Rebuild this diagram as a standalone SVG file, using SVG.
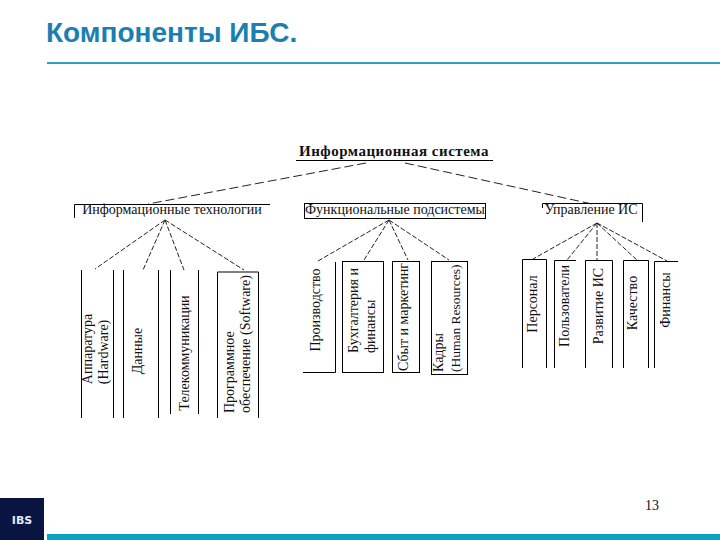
<svg xmlns="http://www.w3.org/2000/svg" width="720" height="540" viewBox="0 0 720 540">
<style>
.t{font-family:"Liberation Serif","Noto Sans CJK SC",serif;font-size:14px;fill:#111}
.h{text-anchor:middle}
.n{font-size:13.500px}
.s{fill:none;stroke:#000;stroke-width:1}
.d{fill:none;stroke:#222;stroke-width:1}
.d1{stroke-dasharray:9 4}
.d2{stroke-dasharray:5 2}
</style>
<rect width="720" height="540" fill="#fff"/>
<g id="header">
<text x="46" y="42" font-family="'Liberation Sans',sans-serif" font-size="28" font-weight="bold" fill="#1a80b2">Компоненты ИБС.</text>
<rect x="47" y="62" width="673" height="2" fill="#2b9fc6"/>
</g>
<g id="connectors">
<path class="d d1" d="M366 163L148 204M405 163L592 204"/>
<path class="d d2" d="M165 220L95 269M165 220L143 270M165 220L184 270M165 220L244 270"/>
<path class="d d2" d="M389 220L318 261M389 220L364 260M389 220L408 260M389 220L449 260"/>
<path class="d d2" d="M597 223L533 259M597 223L567 260M597 223V260M597 223L638 261M597 223L667 261"/>
</g>
<g id="root">
<path class="s" d="M296 160.500H493"/>
<text class="t" x="394" y="156" text-anchor="middle" font-weight="bold" style="font-size:15px;letter-spacing:.5px">Информационная система</text>
</g>
<g id="info-tech">
<path class="s" d="M74.500 218V204.500H270"/>
<text class="t h" x="172" y="214">Информационные технологии</text>
</g>
<g id="func-sub">
<rect class="s" x="304.500" y="203.500" width="181" height="15"/>
<text class="t h" x="395" y="214">Функциональные подсистемы</text>
</g>
<g id="mgmt">
<path class="s" d="M542.500 208V203.500H642.500V222"/>
<text class="t h" x="591" y="214">Управление ИС</text>
</g>
<g id="n-hardware">
<path class="s" d="M81.500 270V418M113.500 270V418"/>
<text class="t" text-anchor="middle" transform="translate(92 349) rotate(-90)">Аппаратура</text>
<text class="t" text-anchor="middle" transform="translate(108 352) rotate(-90)">(Hardware)</text>
</g>
<g id="n-data">
<path class="s" d="M123.500 270V418M158.500 270V418"/>
<text class="t" text-anchor="middle" transform="translate(142 351) rotate(-90)">Данные</text>
</g>
<g id="n-telecom">
<path class="s" d="M170.500 270V414M198.500 270V414"/>
<text class="t" text-anchor="middle" transform="translate(189 353) rotate(-90)">Телекоммуникации</text>
</g>
<g id="n-software">
<path class="s" d="M217.500 418V272H258.500V418"/>
<text class="t" transform="translate(234 413) rotate(-90)">Программное</text>
<text class="t" transform="translate(250 413) rotate(-90)">обеспечение (Software)</text>
</g>
<g id="n-production">
<path class="s" d="M303 372.500H335.500V262"/>
<text class="t" text-anchor="middle" transform="translate(320 310) rotate(-90)">Производство</text>
</g>
<g id="n-accounting">
<rect class="s" x="342.500" y="261.500" width="41" height="111"/>
<text class="t" transform="translate(358 353) rotate(-90)">Бухгалтерия и</text>
<text class="t" transform="translate(375 353) rotate(-90)">финансы</text>
</g>
<g id="n-sales">
<rect class="s" x="392.500" y="261.500" width="27" height="111"/>
<text class="t" text-anchor="middle" transform="translate(408 317) rotate(-90)">Сбыт и маркетинг</text>
</g>
<g id="n-hr">
<rect class="s" x="431.500" y="261.500" width="36" height="113"/>
<text class="t" transform="translate(443 372) rotate(-90)">Кадры</text>
<text class="t n" transform="translate(460 372) rotate(-90)">(Human Resources)</text>
</g>
<g id="n-personnel">
<path class="s" d="M522.500 368V259.500H546.500V368"/>
<text class="t" text-anchor="middle" transform="translate(537 304) rotate(-90)">Персонал</text>
</g>
<g id="n-users">
<path class="s" d="M554.500 368V260.500H576"/>
<text class="t" text-anchor="middle" transform="translate(569 306) rotate(-90)">Пользователи</text>
</g>
<g id="n-dev">
<path class="s" d="M585.500 368V260.500H612.500V368"/>
<text class="t" text-anchor="middle" transform="translate(603 306) rotate(-90)">Развитие ИС</text>
</g>
<g id="n-quality">
<path class="s" d="M623.500 368V260.500H648.500V368"/>
<text class="t" text-anchor="middle" transform="translate(637 303) rotate(-90)">Качество</text>
</g>
<g id="n-finance">
<path class="s" d="M654.500 368V261.500H678"/>
<text class="t" text-anchor="middle" transform="translate(670 300) rotate(-90)">Финансы</text>
</g>
<g id="footer">
<rect x="0" y="498" width="44" height="42" fill="#0a1440"/>
<text x="22" y="524" text-anchor="middle" font-family="'DejaVu Sans',sans-serif" font-size="11" font-weight="bold" fill="#e8e8f0">IBS</text>
<rect x="47" y="534" width="673" height="6" fill="#0ea0bf"/>
<text class="t" x="645" y="510">13</text>
</g>
</svg>
